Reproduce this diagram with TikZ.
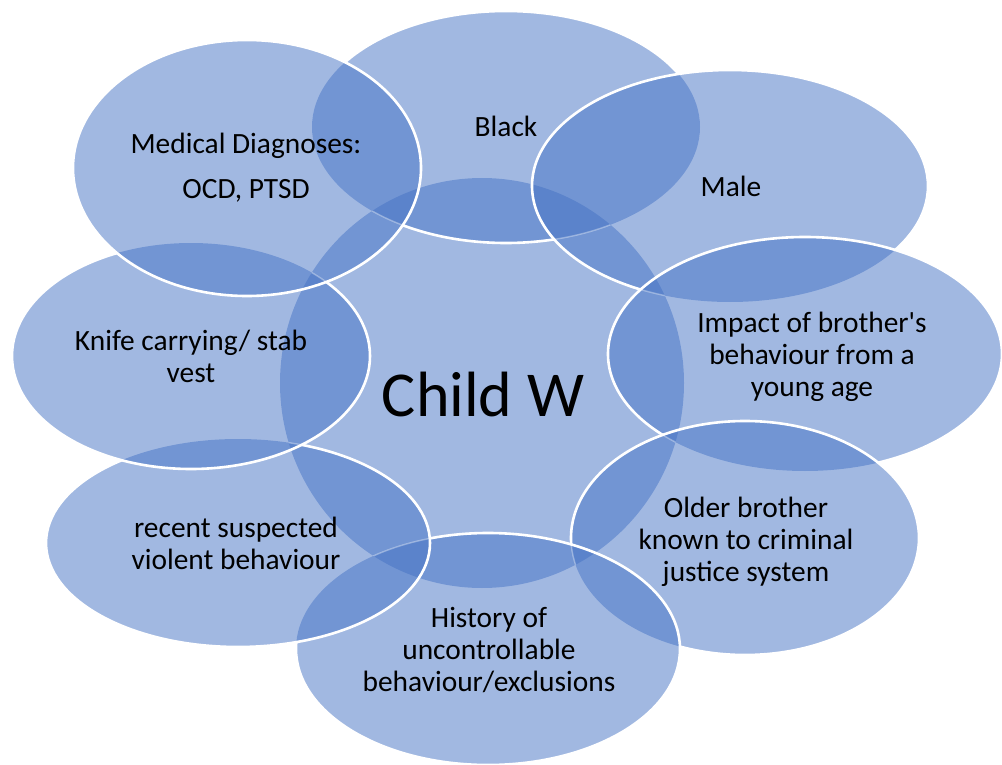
\documentclass[tikz,border=0pt]{standalone}
\usepackage{fontspec}
\setmainfont{Carlito}[Ligatures=TeXOff]
\definecolor{acc}{HTML}{4472C4}
\tikzset{
  bub/.style={fill=acc, fill opacity=0.5, draw=none},
  rim/.style={draw=white, line width=2.6pt},
  faint/.style={draw=white, line width=1.4pt, draw opacity=0.35},
  lbl/.style={font=\fontsize{29.4}{32}\selectfont, align=center, text=black},
  pC/.style={insert path={(482,383) ellipse [x radius=202, y radius=205]}},
  pB/.style={insert path={(506,127) ellipse [x radius=194, y radius=116]}},
  pM/.style={insert path={(730,186) ellipse [x radius=198, y radius=116]}},
  pI/.style={insert path={(805,354) ellipse [x radius=197, y radius=117]}},
  pO/.style={insert path={(745,538) ellipse [x radius=174, y radius=117]}},
  pH/.style={insert path={(488,649) ellipse [x radius=192, y radius=116]}},
  pR/.style={insert path={(238,543) ellipse [x radius=192, y radius=104]}},
  pK/.style={insert path={(191,356) ellipse [x radius=179, y radius=113]}},
  pD/.style={insert path={(247,168) ellipse [x radius=174, y radius=128]}},
}
\newcommand\outsideof[1]{\clip[insert path={(-100,-100) rectangle (1200,900)}, #1];}
\begin{document}
\begin{tikzpicture}[x=1pt,y=-1pt]
\useasboundingbox (0,0) rectangle (1002,765);
% fills
\path[bub,pC];
\path[bub,pB];
\path[bub,pM];
\path[bub,pI];
\path[bub,pO];
\path[bub,pH];
\path[bub,pR];
\path[bub,pK];
\path[bub,pD];
% faint hidden edges inside the centre circle
\begin{scope}
  \clip[pC];
  \path[faint,pB]; \path[faint,pM]; \path[faint,pI]; \path[faint,pO];
  \path[faint,pH]; \path[faint,pR]; \path[faint,pK];
\end{scope}
% visible white outlines
\begin{scope}[even odd rule]\outsideof{pM}\outsideof{pI}\outsideof{pO}\outsideof{pH}\outsideof{pR}\outsideof{pK}\outsideof{pD}\path[rim,pB];\end{scope}
\begin{scope}[even odd rule]\outsideof{pI}\outsideof{pO}\outsideof{pH}\outsideof{pR}\outsideof{pK}\outsideof{pD}\path[rim,pM];\end{scope}
\begin{scope}[even odd rule]\outsideof{pO}\outsideof{pH}\outsideof{pR}\outsideof{pK}\outsideof{pD}\path[rim,pI];\end{scope}
\begin{scope}[even odd rule]\outsideof{pH}\outsideof{pR}\outsideof{pK}\outsideof{pD}\path[rim,pO];\end{scope}
\begin{scope}[even odd rule]\outsideof{pR}\outsideof{pK}\outsideof{pD}\path[rim,pH];\end{scope}
\begin{scope}[even odd rule]\outsideof{pK}\outsideof{pD}\path[rim,pR];\end{scope}
\begin{scope}[even odd rule]\outsideof{pD}\path[rim,pK];\end{scope}
\path[rim,pD];
% labels
\node[lbl] (tB) at (506,126) {Black};
\node[lbl] (tM) at (731,186) {Male};
\node[lbl] (tI) at (812,357) {Impact of brother's\\behaviour from a\\young age};
\node[lbl] (tO) at (746,542) {Older brother\\known to criminal\\justice system};
\node[lbl] (tH) at (489,650) {History of\\uncontrollable\\behaviour/exclusions};
\node[lbl] (tR) at (236,543) {recent suspected\\violent behaviour};
\node[lbl] (tK) at (191,356) {Knife carrying/ stab\\vest};
\node[lbl] (tD) at (246,168) {Medical Diagnoses:\\[13pt]OCD, PTSD};
\node[font=\fontsize{64}{70}\selectfont, text=black] (tC) at (483,394) {Child W};
\end{tikzpicture}
\end{document}
